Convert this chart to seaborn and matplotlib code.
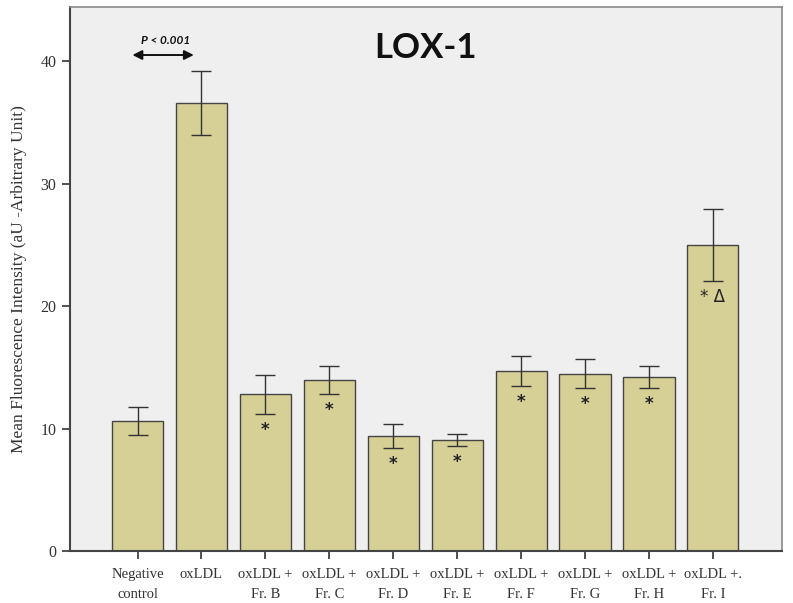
import matplotlib
matplotlib.use("Agg")
import matplotlib.pyplot as plt
import seaborn as sns
import pandas as pd
import numpy as np

categories = ["Negative\ncontrol", "oxLDL", "oxLDL +\nFr. B", "oxLDL +\nFr. C", "oxLDL +\nFr. D",
              "oxLDL +\nFr. E", "oxLDL +\nFr. F", "oxLDL +\nFr. G", "oxLDL +\nFr. H", "oxLDL +.\nFr. I"]
means = [10.6, 36.6, 12.8, 14.0, 9.4, 9.05, 14.7, 14.5, 14.2, 25.0]
errors = [1.15, 2.6, 1.6, 1.15, 1.0, 0.5, 1.2, 1.15, 0.9, 2.95]
marks = ["", "", "*", "*", "*", "*", "*", "*", "*", "* Δ"]

sns.set_style("ticks")
plt.rcParams["font.family"] = ["Liberation Serif", "DejaVu Serif"]

df = pd.DataFrame({"group": categories, "value": means})

fig = plt.figure(figsize=(7.93, 6.03), dpi=100)
ax = fig.add_axes([0.088, 0.086, 0.898, 0.902])
ax.set_facecolor("#efefef")

sns.barplot(data=df, x="group", y="value", color="#d6cf96", saturation=1,
            edgecolor="#444444", linewidth=1.0, width=0.8, ax=ax, errorbar=None)
x = np.arange(len(categories))
ax.errorbar(x, means, yerr=errors, fmt="none", ecolor="#333333", elinewidth=1.0,
            capsize=7, capthick=1.0)

for xi, m, e, t in zip(x, means, errors, marks):
    if t:
        ax.text(xi, m - e - 1.3, t, ha="center", va="center", fontsize=12,
                fontweight="bold" if t == "*" else "normal",
                family=["DejaVu Sans"], color="#222222")

ax.set_xlim(-1.06, 10.08)
ax.set_ylim(0, 44.4)
ax.set_yticks([0, 10, 20, 30, 40])
ax.set_xlabel("")
ax.set_ylabel("Mean Fluorescence Intensity (aU -Arbitrary Unit)", fontsize=12.5, color="#333333", labelpad=10)
ax.tick_params(axis="y", labelsize=11.5, colors="#333333", length=6, width=1.2)
ax.tick_params(axis="x", labelsize=10.5, colors="#333333", length=6, width=1.2, pad=6)
for lbl in ax.get_xticklabels():
    lbl.set_linespacing(1.75)

for s in ["left", "bottom"]:
    ax.spines[s].set_color("#444444")
    ax.spines[s].set_linewidth(1.5)
for s in ["top", "right"]:
    ax.spines[s].set_visible(True)
    ax.spines[s].set_color("#888888")
    ax.spines[s].set_linewidth(1.2)

ax.text(0.5, 0.925, "LOX-1", transform=ax.transAxes, ha="center", va="center",
        fontsize=25, fontweight="bold", family=["Lato", "DejaVu Sans"], color="#111111")

ax.annotate("", xy=(-0.08, 40.5), xytext=(0.88, 40.5),
            arrowprops=dict(arrowstyle="<|-|>", color="#111111", lw=1.4, mutation_scale=14,
                            shrinkA=0, shrinkB=0))
ax.text(0.44, 41.7, "P < 0.001", ha="center", va="center", fontsize=8.5, fontweight="bold",
        fontstyle="italic", family=["Lato", "DejaVu Sans"], color="#111111")

fig.savefig("out.png", dpi=100, facecolor="white")
